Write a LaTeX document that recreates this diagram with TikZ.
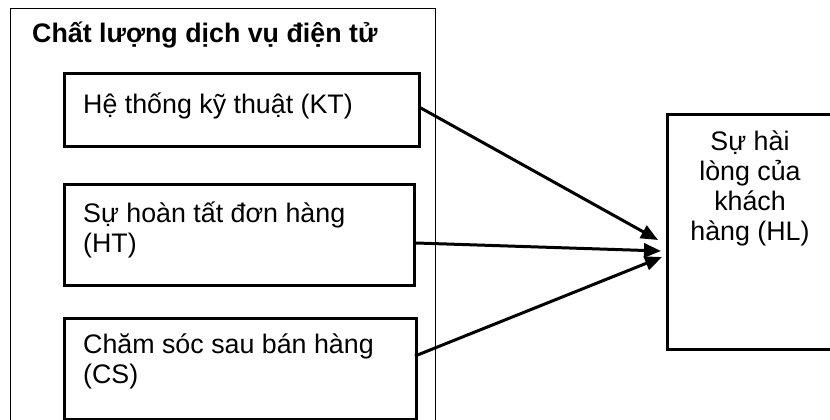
\documentclass[tikz,border=0pt]{standalone}
\usepackage{fontspec}
\setmainfont{Liberation Sans}
\usetikzlibrary{arrows.meta}
\begin{document}
\begin{tikzpicture}[x=1pt,y=-1pt,
  outerbox/.style={draw, line width=1pt, inner sep=0pt, anchor=north west},
  box/.style={draw, line width=3pt, inner sep=0pt, anchor=north west},
  lbl/.style={font=\fontsize{26.8}{30}\selectfont, inner sep=0pt, align=left, anchor=base west},
  arr/.style={line width=3pt, -{Triangle[length=17pt,width=14pt]}}]
\useasboundingbox (0,0) rectangle (830,420);
\clip (0,0) rectangle (830,420);
% boxes
\node[outerbox, minimum width=425pt, minimum height=440pt] (outer) at (10,8) {};
\node[box, minimum width=355pt, minimum height=73pt] (KT) at (63,72) {};
\node[box, minimum width=350pt, minimum height=101pt] (HT) at (63,183) {};
\node[box, minimum width=352pt, minimum height=101pt] (CS) at (63,317) {};
\node[box, minimum width=220pt, minimum height=235pt] (HL) at (666,113) {};
% texts
\node[lbl, font=\fontsize{26.8}{30}\selectfont\bfseries] (title) at (32,43) {Chất lượng dịch vụ điện tử};
\node[lbl] (KTt) at (83,113) {Hệ thống kỹ thuật (KT)};
\node[lbl] (HTt) at (83,252) {Sự hoàn tất đơn hàng\\(HT)};
\node[lbl] (CSt) at (83,383) {Chăm sóc sau bán hàng\\(CS)};
\node[lbl, align=center, anchor=base] (HLt) at (750,240) {Sự hài\\lòng của\\khách\\hàng (HL)};
% connector ends
\coordinate (a1s) at (419,107);
\coordinate (a2s) at (416,243);
\coordinate (a3s) at (415,356);
\coordinate (a1e) at (658,240);
\coordinate (a2e) at (661,251);
\coordinate (a3e) at (662,257);
\draw[arr] (a1s) -- (a1e);
\draw[arr] (a2s) -- (a2e);
\draw[arr] (a3s) -- (a3e);
\end{tikzpicture}
\end{document}
